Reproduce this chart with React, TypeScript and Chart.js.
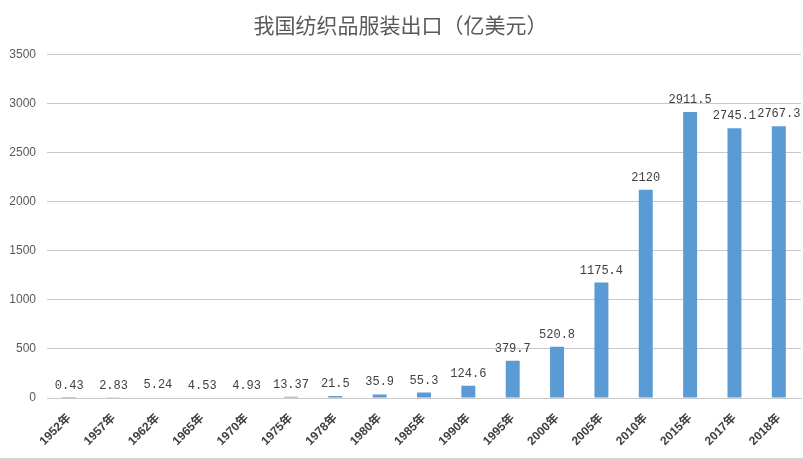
import React, { useEffect, useRef } from "react";
import { Chart, registerables } from "chart.js";

Chart.register(...registerables);

const categories = ["1952年", "1957年", "1962年", "1965年", "1970年", "1975年", "1978年", "1980年", "1985年", "1990年", "1995年", "2000年", "2005年", "2010年", "2015年", "2017年", "2018年"];
const exportValues = [0.43, 2.83, 5.24, 4.53, 4.93, 13.37, 21.5, 35.9, 55.3, 124.6, 379.7, 520.8, 1175.4, 2120, 2911.5, 2745.1, 2767.3];
const titleText = "我国纺织品服装出口（亿美元）";

const valueLabels = {
  id: "valueLabels",
  afterDatasetsDraw(chart: any) {
    const ctx = chart.ctx;
    const meta = chart.getDatasetMeta(0);
    ctx.save();
    ctx.font = "12px 'Liberation Mono', 'DejaVu Sans Mono', monospace";
    ctx.fillStyle = "#404040";
    ctx.textAlign = "center";
    ctx.textBaseline = "alphabetic";
    meta.data.forEach((el: any, i: number) => {
      ctx.fillText(String(exportValues[i]), el.x, el.y - 9);
    });
    ctx.restore();
  },
};

export default function App() {
  const ref = useRef<HTMLCanvasElement | null>(null);
  useEffect(() => {
    if (!ref.current) return;
    const chart = new Chart(ref.current, {
      type: "bar",
      data: {
        labels: categories,
        datasets: [
          {
            data: exportValues,
            backgroundColor: "#5b9bd5",
            barPercentage: 0.63,
            categoryPercentage: 0.5,
          },
        ],
      },
      options: {
        animation: false,
        responsive: false,
        maintainAspectRatio: false,
        layout: { padding: { left: 0, right: 2, top: 0, bottom: 0 } },
        plugins: {
          legend: { display: false },
          tooltip: { enabled: false },
          title: {
            display: true,
            text: titleText,
            color: "#595959",
            font: { size: 21, family: "'Noto Sans CJK SC', sans-serif", weight: "normal" },
            padding: { top: 12, bottom: 17 },
          },
        },
        scales: {
          x: {
            grid: { display: false, drawTicks: false },
            border: { display: true, color: "#c8c8c8" },
            ticks: {
              autoSkip: false,
              minRotation: 45,
              maxRotation: 45,
              color: "#404040",
              padding: 13,
              font: { size: 12, weight: "bold", family: "'Liberation Sans', 'Noto Sans CJK SC', sans-serif" },
            },
            afterFit: (scale: any) => {
              scale.height = 60;
            },
          },
          y: {
            min: 0,
            max: 3500,
            ticks: {
              stepSize: 500,
              color: "#595959",
              padding: 11,
              font: { size: 12, family: "'Liberation Sans', sans-serif" },
              callback: (v: any) => String(v),
            },
            grid: { color: "#c8c8c8", drawTicks: false },
            border: { display: false },
            afterFit: (scale: any) => {
              scale.width = 47;
            },
          },
        },
      },
      plugins: [valueLabels],
    } as any);
    return () => chart.destroy();
  }, []);
  return (
    <div style={{ position: "fixed", left: 0, top: 0, width: 803, height: 458, borderBottom: "1px solid #d0d0d0", background: "#fff" }}>
      <canvas ref={ref} width={803} height={458} style={{ display: "block" }} />
    </div>
  );
}
